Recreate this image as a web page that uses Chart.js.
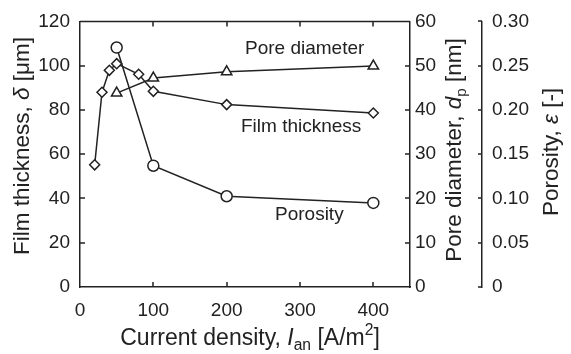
<!DOCTYPE html>
<html>
<head>
<meta charset="utf-8">
<script src="https://cdn.jsdelivr.net/npm/chart.js@4.4.1/dist/chart.umd.min.js"></script>
<style>
  body { margin: 0; background: #fff; }
  canvas { display: block; }
</style>
</head>
<body>
<canvas id="myChart" width="571" height="354"></canvas>
<script>
// current density [A/m2]
let thickness_x = [20, 30, 40, 50, 80, 100, 200, 400];
let thickness_y = [55.2, 88, 97.9, 100.9, 96.1, 88.4, 82.4, 78.6];   // um

let pore_x = [50, 100, 200, 400];
let pore_y = [43.8, 47.2, 48.6, 49.9];    // nm

let porosity_x = [50, 100, 200, 400];
let porosity_y = [0.2705, 0.137, 0.1025, 0.095];  // -

let x_ticks = [0, 100, 200, 300, 400];

const ink = '#222';
const fontName = '"Liberation Sans", Arial, sans-serif';

function pts(xs, ys) {
  return xs.map((x, i) => ({x: x, y: ys[i]}));
}

// text with italic / subscript / superscript pieces, centred at (cx, cy)
function drawRich(ctx, parts, cx, cy, size, angle) {
  ctx.save();
  ctx.translate(cx, cy);
  ctx.rotate(angle);
  ctx.fillStyle = ink;
  ctx.textBaseline = 'middle';
  ctx.textAlign = 'left';
  let fontOf = p => (p.italic ? 'italic ' : '') + ((p.sub || p.sup) ? size * 0.68 : size) + 'px ' + fontName;
  let total = 0;
  parts.forEach(p => { ctx.font = fontOf(p); total += ctx.measureText(p.t).width; });
  let x = -total / 2;
  parts.forEach(p => {
    ctx.font = fontOf(p);
    let dy = p.sub ? size * 0.3 : (p.sup ? -size * 0.35 : 0);
    ctx.fillText(p.t, x, dy);
    x += ctx.measureText(p.t).width;
  });
  ctx.restore();
}

const decorations = {
  id: 'decorations',
  afterDraw(chart) {
    const ctx = chart.ctx;
    const a = chart.chartArea;
    const sx = chart.scales.x, sy = chart.scales.y, sy2 = chart.scales.y2, sy3 = chart.scales.y3;
    ctx.save();
    ctx.strokeStyle = ink;
    ctx.lineWidth = 1.5;
    ctx.beginPath();
    // top frame line
    ctx.moveTo(a.left, a.top);
    ctx.lineTo(a.right, a.top);
    // x ticks (bottom and top, inward)
    [100, 200, 300, 400].forEach(v => {
      let px = Math.round(sx.getPixelForValue(v));
      ctx.moveTo(px, a.bottom); ctx.lineTo(px, a.bottom - 5);
      ctx.moveTo(px, a.top); ctx.lineTo(px, a.top + 5);
    });
    // left ticks
    [20, 40, 60, 80, 100].forEach(v => {
      let py = Math.round(sy.getPixelForValue(v));
      ctx.moveTo(a.left, py); ctx.lineTo(a.left + 5, py);
    });
    // pore diameter ticks
    [10, 20, 30, 40, 50].forEach(v => {
      let py = Math.round(sy2.getPixelForValue(v));
      ctx.moveTo(a.right, py); ctx.lineTo(a.right - 5, py);
    });
    // porosity ticks
    let lx = sy3.left;
    [0, 0.05, 0.1, 0.15, 0.2, 0.25, 0.3].forEach(v => {
      let py = Math.round(sy3.getPixelForValue(v));
      ctx.moveTo(lx, py); ctx.lineTo(lx - 4, py);
    });
    ctx.stroke();

    // series labels
    ctx.fillStyle = ink;
    ctx.font = '19px ' + fontName;
    ctx.textBaseline = 'middle';
    ctx.textAlign = 'left';
    ctx.fillText('Pore diameter', 245, 49);
    ctx.fillText('Film thickness', 241, 127);
    ctx.fillText('Porosity', 275, 215);

    // axis titles
    drawRich(ctx, [{t: 'Film thickness, '}, {t: 'δ', italic: true}, {t: ' [μm]'}], 23, 146, 22.5, -Math.PI / 2);
    drawRich(ctx, [{t: 'Pore diameter, '}, {t: 'd', italic: true}, {t: 'p', sub: true}, {t: ' [nm]'}], 455, 150, 22.5, -Math.PI / 2);
    drawRich(ctx, [{t: 'Porosity, '}, {t: 'ε', italic: true}, {t: ' [-]'}], 552, 152, 22.5, -Math.PI / 2);
    drawRich(ctx, [{t: 'Current density, '}, {t: 'I', italic: true}, {t: 'an', sub: true}, {t: ' [A/m'}, {t: '2', sup: true}, {t: ']'}], 250, 339, 23, 0);
    ctx.restore();
  }
};

const tickFont = {family: fontName, size: 19};

let data = {
  datasets: [{
    label: 'Film thickness',
    data: pts(thickness_x, thickness_y),
    yAxisID: 'y',
    borderColor: ink,
    borderWidth: 1.5,
    pointStyle: 'rectRot',
    pointRadius: 5,
    pointBackgroundColor: '#fff',
    pointBorderColor: ink,
    pointBorderWidth: 1.5
  }, {
    label: 'Pore diameter',
    data: pts(pore_x, pore_y),
    yAxisID: 'y2',
    borderColor: ink,
    borderWidth: 1.5,
    pointStyle: 'triangle',
    pointRadius: 6,
    pointBackgroundColor: '#fff',
    pointBorderColor: ink,
    pointBorderWidth: 1.5
  }, {
    label: 'Porosity',
    data: pts(porosity_x, porosity_y),
    yAxisID: 'y3',
    borderColor: ink,
    borderWidth: 1.5,
    pointStyle: 'circle',
    pointRadius: 5.5,
    pointBackgroundColor: '#fff',
    pointBorderColor: ink,
    pointBorderWidth: 1.5
  }]
};

let config = {
  type: 'line',
  data: data,
  plugins: [decorations],
  options: {
    responsive: false,
    animation: false,
    layout: {padding: {top: 18, left: 0, right: 0, bottom: 0}},
    plugins: {legend: {display: false}, tooltip: {enabled: false}},
    scales: {
      x: {
        type: 'linear',
        min: 0, max: 450,
        afterBuildTicks: s => { s.ticks = x_ticks.map(v => ({value: v})); },
        afterFit: s => { s.height = 67; },
        grid: {display: false, tickLength: 0},
        border: {display: true, color: ink, width: 1.5},
        ticks: {color: ink, font: tickFont, padding: 12, maxRotation: 0}
      },
      y: {
        position: 'left',
        min: 0, max: 120,
        afterFit: s => { s.width = 80; },
        grid: {display: false, tickLength: 0},
        border: {display: true, color: ink, width: 1.5},
        ticks: {color: ink, font: tickFont, stepSize: 20, padding: 10}
      },
      y2: {
        position: 'right',
        weight: 0,
        min: 0, max: 60,
        afterFit: s => { s.width = 72; },
        grid: {display: false, tickLength: 0},
        border: {display: true, color: ink, width: 1.5},
        ticks: {color: ink, font: tickFont, stepSize: 10, padding: 5}
      },
      y3: {
        position: 'right',
        weight: 1,
        min: 0, max: 0.3,
        afterFit: s => { s.width = 89; },
        grid: {display: false, tickLength: 0},
        border: {display: true, color: ink, width: 1.5},
        ticks: {
          color: ink, font: tickFont, stepSize: 0.05, padding: 10,
          callback: v => v === 0 ? '0' : v.toFixed(2)
        }
      }
    }
  }
};

let myChart = new Chart(document.getElementById('myChart'), config);
</script>
</body>
</html>
